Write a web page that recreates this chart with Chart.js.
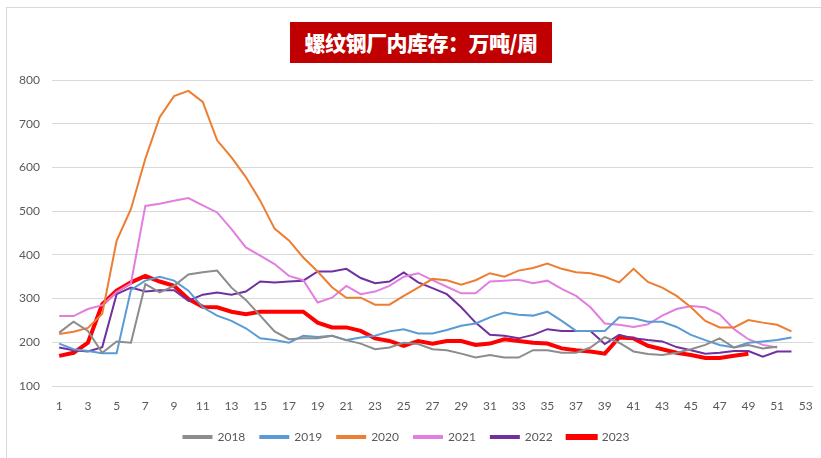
<!DOCTYPE html>
<html>
<head>
<meta charset="utf-8">
<script src="https://cdn.jsdelivr.net/npm/chart.js@4/dist/chart.umd.min.js"></script>
<style>
  html, body { margin: 0; padding: 0; background: #fff; }
  #wrap { position: relative; width: 821px; height: 458px; overflow: hidden; }
  #frame { position: absolute; left: 6px; top: 7px; width: 830px; height: 460px; border: 1px solid #d9d9d9; box-sizing: border-box; }
  #title {
    position: absolute; left: 290px; top: 22px; width: 262px; height: 41px;
    background: #c00000; color: #fff; text-align: center; line-height: 41px;
    font-family: "Noto Sans CJK SC", sans-serif; font-weight: 900; font-size: 21px;
    letter-spacing: -0.5px;
  }
  #chart-box { position: absolute; left: 0; top: 0; width: 821px; height: 458px; }
</style>
</head>
<body>
<div id="wrap">
  <div id="frame"></div>
  <div id="chart-box"><canvas id="chart-stock"></canvas></div>
  <div id="title">螺纹钢厂内库存：万吨/周</div>
</div>
<script>
// Rebar in-plant inventory by week (10k tonnes), one series per year.

var weeks = [];
for (var w = 1; w <= 53; w++) weeks.push(w);

var s2018 = [222, 247, 226, 176, 202, 199, 333, 314, 329, 355, 360, 364, 325, 297, 261, 225, 207, 209, 209, 215,
  205, 197, 184, 188, 199, 196, 184, 182, 174, 165, 171, 165, 165, 182, 182, 176, 176, 188, 212, 199,
  179, 173, 171, 176, 184, 194, 209, 188, 194, 186, 190];

var s2019 = [197, 184, 180, 175, 175, 320, 341, 350, 341, 318, 280, 261, 249, 232, 209, 205, 199, 215, 212, 215,
  205, 211, 215, 225, 230, 220, 220, 228, 238, 243, 257, 268, 263, 261, 270, 249, 226, 226, 226, 257,
  255, 247, 247, 235, 217, 205, 194, 188, 199, 202, 205, 211];

var s2020 = [219, 224, 233, 265, 432, 505, 620, 715, 763, 775, 750, 662, 623, 578, 524, 460, 433, 394, 362, 326,
  302, 302, 286, 286, 306, 325, 345, 342, 332, 342, 358, 350, 364, 370, 380, 368, 360, 358, 350, 337,
  368, 338, 325, 306, 280, 249, 234, 234, 251, 245, 240, 225];

var s2021 = [260, 260, 276, 285, 315, 335, 512, 517, 524, 530, 513, 497, 459, 417, 398, 379, 352, 342, 291, 302,
  329, 310, 316, 329, 350, 358, 342, 327, 312, 312, 339, 341, 343, 335, 341, 322, 306, 280, 243, 240,
  235, 241, 261, 276, 283, 280, 264, 230, 207, 194, 188];

var s2022 = [188, 182, 179, 189, 310, 325, 316, 319, 319, 295, 309, 314, 309, 316, 339, 337, 339, 341, 362, 362,
  368, 347, 335, 339, 360, 337, 324, 310, 280, 245, 217, 215, 209, 217, 230, 226, 226, 226, 196, 217,
  209, 205, 202, 189, 182, 174, 176, 180, 180, 167, 179, 179];

var s2023 = [169, 176, 199, 287, 318, 337, 352, 339, 329, 299, 281, 280, 270, 264, 270, 270, 270, 270, 245, 234,
  234, 226, 209, 203, 192, 203, 197, 203, 203, 194, 197, 207, 203, 199, 197, 186, 182, 179, 174, 211,
  209, 192, 184, 176, 171, 164, 164, 169, 174];

var yTicks = [100, 200, 300, 400, 500, 600, 700, 800];

var colors = {
  y2018: "#8c8c8c",
  y2019: "#5b9bd5",
  y2020: "#ed7d31",
  y2021: "#e27ee0",
  y2022: "#7030a0",
  y2023: "#ff0000",
  grid: "#d9d9d9",
  ink: "#595959",
};

var font = { family: "Lato, 'Liberation Sans', sans-serif", size: 12 };

function series(label, data, color, width) {
  return {
    label: label,
    data: data,
    borderColor: color,
    backgroundColor: color,
    borderWidth: width,
    pointRadius: 0,
    tension: 0,
    fill: false,
  };
}

new Chart(document.getElementById("chart-stock"), {
  type: "line",
  data: {
    labels: weeks,
    datasets: [
      series("2018", s2018, colors.y2018, 2),
      series("2019", s2019, colors.y2019, 2),
      series("2020", s2020, colors.y2020, 2),
      series("2021", s2021, colors.y2021, 2),
      series("2022", s2022, colors.y2022, 2),
      series("2023", s2023, colors.y2023, 4),
    ],
  },
  options: {
    responsive: true,
    maintainAspectRatio: false,
    animation: false,
    layout: { padding: { left: 0, right: 8, top: 80, bottom: 5 } },
    plugins: {
      legend: {
        position: "bottom",
        labels: {
          color: colors.ink,
          font: font,
          boxWidth: 28,
          boxHeight: 2,
          padding: 15,
        },
      },
      tooltip: { enabled: false },
    },
    scales: {
      x: {
        offset: true,
        grid: { display: false },
        border: { display: false },
        afterFit: function (scale) { scale.height = 30; },
        ticks: {
          color: colors.ink,
          font: font,
          autoSkip: false,
          maxRotation: 0,
          padding: 5,
          callback: function (v, i) { return i % 2 === 0 ? weeks[i] : ""; },
        },
      },
      y: {
        min: 100,
        max: 800,
        afterBuildTicks: function (scale) {
          scale.ticks = yTicks.map(function (v) { return { value: v }; });
        },
        afterFit: function (scale) { scale.width = 52; },
        grid: { color: colors.grid, drawTicks: false },
        border: { display: false },
        ticks: { color: colors.ink, font: font, padding: 12 },
      },
    },
  },
});
</script>
</body>
</html>
